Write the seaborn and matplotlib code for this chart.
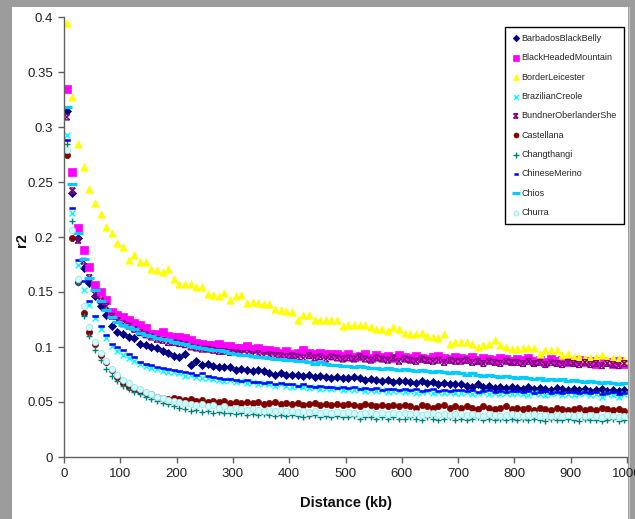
import numpy as np
import matplotlib
matplotlib.use("Agg")
import matplotlib.pyplot as plt
from matplotlib.path import Path
from matplotlib.markers import MarkerStyle
from matplotlib.patches import Rectangle
import seaborn as sns
import warnings
warnings.filterwarnings("ignore")

# ---------------- data (r2 vs distance, 10 kb bins) ----------------
distance_kb = np.arange(5, 1000, 10)

barbados_black_belly = [
    .315, .240, .199, .172, .158, .146, .137, .129, .119, .114,
    .112, .109, .108, .103, .102, .100, .099, .096, .095, .092,
    .091, .094, .084, .087, .084, .085, .083, .082, .082, .082,
    .079, .080, .079, .078, .079, .078, .076, .075, .076, .075,
    .075, .075, .074, .075, .073, .074, .073, .072, .073, .072,
    .072, .073, .072, .070, .071, .070, .069, .070, .068, .069,
    .069, .068, .067, .069, .067, .068, .066, .067, .066, .066,
    .066, .065, .064, .066, .064, .065, .063, .064, .063, .064,
    .063, .062, .064, .062, .063, .062, .061, .063, .062, .061,
    .062, .061, .062, .060, .061, .062, .060, .061, .060, .061]

black_headed_mountain = [
    .335, .259, .208, .188, .173, .156, .150, .143, .132, .129,
    .127, .125, .122, .120, .117, .112, .112, .114, .110, .109,
    .109, .108, .106, .104, .103, .102, .102, .103, .101, .101,
    .099, .099, .101, .098, .099, .097, .097, .096, .095, .096,
    .094, .095, .097, .095, .094, .095, .094, .094, .094, .092,
    .094, .091, .092, .094, .090, .093, .091, .092, .090, .093,
    .091, .090, .092, .090, .089, .091, .092, .090, .089, .091,
    .090, .089, .091, .088, .090, .089, .088, .090, .089, .087,
    .089, .088, .090, .087, .088, .086, .089, .087, .088, .086,
    .087, .088, .086, .087, .085, .087, .086, .085, .087, .085]

border_leicester = [
    .395, .327, .285, .264, .244, .231, .221, .209, .204, .195,
    .191, .179, .184, .177, .177, .171, .170, .168, .171, .162,
    .157, .157, .157, .155, .155, .148, .147, .146, .149, .143,
    .146, .147, .140, .141, .140, .139, .139, .135, .134, .133,
    .132, .125, .129, .129, .125, .125, .125, .125, .125, .119,
    .120, .120, .120, .120, .118, .116, .116, .115, .118, .116,
    .113, .112, .112, .113, .110, .109, .108, .112, .103, .105,
    .105, .105, .103, .100, .102, .103, .106, .102, .100, .098,
    .098, .099, .099, .099, .094, .097, .097, .097, .093, .094,
    .091, .091, .090, .090, .091, .093, .089, .090, .090, .088]

brazilian_creole = [
    .293, .222, .175, .152, .138, .126, .116, .108, .101, .096,
    .093, .090, .087, .085, .083, .081, .080, .078, .077, .077,
    .076, .074, .075, .073, .072, .072, .071, .070, .069, .070,
    .068, .069, .067, .068, .066, .067, .066, .065, .066, .065,
    .064, .065, .064, .063, .064, .062, .063, .062, .063, .061,
    .062, .061, .062, .060, .061, .060, .061, .059, .060, .060,
    .059, .060, .058, .059, .060, .058, .059, .058, .059, .058,
    .058, .059, .057, .058, .059, .057, .058, .057, .058, .057,
    .058, .057, .056, .058, .057, .056, .057, .058, .056, .057,
    .056, .057, .058, .056, .057, .055, .057, .056, .055, .057]

bundner_oberlander = [
    .309, .242, .197, .178, .163, .148, .142, .137, .128, .124,
    .121, .119, .116, .113, .111, .109, .107, .106, .104, .104,
    .103, .102, .100, .099, .098, .098, .097, .096, .096, .095,
    .095, .094, .094, .093, .094, .092, .093, .092, .092, .091,
    .092, .091, .090, .092, .090, .091, .089, .091, .090, .089,
    .090, .089, .091, .089, .088, .090, .089, .088, .090, .087,
    .089, .088, .087, .089, .088, .087, .088, .086, .088, .087,
    .087, .088, .086, .087, .085, .087, .086, .085, .087, .086,
    .086, .085, .087, .085, .086, .084, .086, .085, .084, .086,
    .085, .084, .086, .084, .085, .083, .085, .084, .083, .085]

castellana = [
    .275, .199, .159, .131, .114, .103, .093, .086, .079, .073,
    .067, .064, .062, .060, .058, .057, .055, .054, .053, .054,
    .053, .052, .053, .051, .052, .050, .051, .050, .051, .049,
    .050, .049, .050, .049, .050, .048, .049, .050, .048, .049,
    .048, .049, .047, .048, .049, .047, .048, .047, .048, .047,
    .048, .047, .046, .048, .047, .046, .047, .046, .047, .046,
    .047, .046, .045, .047, .046, .045, .046, .047, .045, .046,
    .045, .046, .045, .044, .046, .045, .044, .045, .046, .044,
    .045, .044, .045, .043, .045, .044, .043, .045, .044, .043,
    .044, .045, .043, .044, .043, .045, .044, .043, .044, .042]

changthangi = [
    .285, .215, .158, .128, .110, .097, .088, .080, .074, .069,
    .065, .062, .059, .057, .055, .053, .051, .049, .048, .046,
    .045, .044, .042, .043, .041, .042, .040, .041, .040, .040,
    .039, .040, .038, .039, .038, .039, .038, .037, .038, .037,
    .038, .037, .036, .037, .038, .036, .037, .036, .037, .036,
    .036, .037, .035, .036, .036, .035, .036, .035, .036, .035,
    .035, .036, .035, .034, .036, .035, .034, .035, .036, .034,
    .035, .034, .035, .036, .034, .035, .034, .035, .034, .035,
    .034, .035, .034, .035, .034, .033, .035, .034, .034, .035,
    .034, .033, .035, .034, .034, .033, .034, .035, .033, .034]

chinese_merino = [
    .288, .226, .179, .160, .142, .128, .119, .111, .103, .100,
    .097, .094, .091, .086, .085, .084, .082, .081, .080, .079,
    .078, .077, .076, .075, .076, .074, .073, .072, .071, .071,
    .070, .069, .070, .068, .068, .067, .068, .066, .067, .066,
    .066, .065, .066, .065, .064, .065, .064, .064, .063, .064,
    .063, .064, .062, .063, .062, .063, .061, .062, .062, .061,
    .062, .061, .062, .060, .061, .062, .060, .061, .060, .061,
    .061, .060, .061, .059, .060, .061, .059, .060, .059, .060,
    .060, .059, .060, .058, .059, .060, .058, .059, .058, .059,
    .059, .058, .059, .058, .059, .057, .058, .059, .057, .058]

chios = [
    .318, .248, .204, .180, .163, .152, .142, .134, .127, .123,
    .120, .118, .116, .113, .111, .110, .108, .107, .106, .105,
    .104, .103, .101, .100, .099, .098, .097, .097, .096, .095,
    .094, .093, .093, .092, .091, .091, .090, .089, .089, .088,
    .088, .087, .087, .086, .085, .086, .085, .084, .084, .083,
    .083, .082, .083, .082, .081, .081, .080, .081, .080, .079,
    .080, .079, .078, .079, .078, .077, .078, .077, .076, .077,
    .076, .075, .076, .075, .074, .075, .074, .073, .074, .073,
    .072, .073, .072, .071, .072, .070, .071, .070, .071, .069,
    .070, .069, .068, .069, .068, .067, .068, .067, .066, .067]

churra = [
    .279, .206, .162, .137, .118, .105, .095, .087, .080, .075,
    .070, .067, .064, .062, .059, .057, .055, .054, .052, .051,
    .050, .049, .048, .047, .048, .046, .047, .045, .046, .044,
    .045, .044, .043, .044, .043, .042, .043, .042, .043, .042,
    .042, .041, .042, .041, .042, .040, .041, .040, .041, .040,
    .041, .040, .039, .040, .041, .039, .040, .039, .040, .039,
    .040, .039, .040, .038, .039, .040, .038, .039, .038, .039,
    .039, .038, .039, .038, .037, .039, .038, .037, .038, .039,
    .038, .037, .038, .039, .037, .038, .037, .038, .037, .038,
    .037, .038, .037, .038, .037, .036, .038, .037, .036, .037]

series_names = ["BarbadosBlackBelly", "BlackHeadedMountain", "BorderLeicester",
                "BrazilianCreole", "BundnerOberlanderShe", "Castellana",
                "Changthangi", "ChineseMerino", "Chios", "Churra"]
series_values = [barbados_black_belly, black_headed_mountain, border_leicester,
                 brazilian_creole, bundner_oberlander, castellana,
                 changthangi, chinese_merino, chios, churra]

x_ticks = [0, 100, 200, 300, 400, 500, 600, 700, 800, 900, 1000]
y_ticks = [0, 0.05, 0.1, 0.15, 0.2, 0.25, 0.3, 0.35, 0.4]
y_tick_labels = ["0", "0.05", "0.1", "0.15", "0.2", "0.25", "0.3", "0.35", "0.4"]

for v in series_values:
    assert len(v) == len(distance_kb), len(v)

# ---------------- marker styles ----------------
hourglass = MarkerStyle(Path([(-1, 1), (1, 1), (-1, 1), (1, -1), (1, 1), (-1, -1), (-1, -1), (1, -1)],
                             [Path.MOVETO, Path.LINETO, Path.MOVETO, Path.LINETO,
                              Path.MOVETO, Path.LINETO, Path.MOVETO, Path.LINETO]),
                        fillstyle='none')
short_dash = [(-1, -0.55), (1, -0.55), (1, 0.55), (-1, 0.55)]

styles = [
    dict(marker='D', color='#000080', s=17, edgecolor='#000080', linewidth=0.5),
    dict(marker='s', color='#FF00FF', s=26, edgecolor='#FF00FF', linewidth=0.5),
    dict(marker='^', color='#FFFF00', s=28, edgecolor='#FFFF00', linewidth=0.5),
    dict(marker='x', color='#00FFFF', s=18, linewidth=1.0),
    dict(marker=hourglass, color='#800080', s=16, linewidth=1.0),
    dict(marker='o', color='#800000', s=20, edgecolor='#800000', linewidth=0.5),
    dict(marker='+', color='#008080', s=24, linewidth=1.0),
    dict(marker=short_dash, color='#0000FF', s=13, edgecolor='#0000FF', linewidth=0.4),
    dict(marker='_', color='#00CCFF', s=44, linewidth=2.3),
    dict(marker='o', color='#CCFFFF', s=20, edgecolor='#A8E0E0', linewidth=0.6),
]

# ---------------- figure ----------------
sns.set_theme(style="white")
plt.rcParams['font.family'] = ['Liberation Sans', 'DejaVu Sans']

W, H = 635, 519
fig = plt.figure(figsize=(W / 100, H / 100), dpi=100)
fig.patch.set_facecolor('#9c9c9c')
fig.patches.append(Rectangle((12 / W, 0), (628 - 12) / W, 1 - 7 / H, transform=fig.transFigure,
                             facecolor='white', edgecolor='none', zorder=-5))

ax = fig.add_axes([64 / W, (H - 457) / H, (627 - 64) / W, (457 - 17) / H])
ax.set_facecolor('white')

for name, vals, st in zip(series_names, series_values, styles):
    sns.scatterplot(x=distance_kb, y=vals, label=name, ax=ax, **st)

ax.set_xlim(0, 1000)
ax.set_ylim(0, 0.4)
ax.set_xticks(x_ticks)
ax.set_xticklabels([str(t) for t in x_ticks])
ax.set_yticks(y_ticks)
ax.set_yticklabels(y_tick_labels)
ax.tick_params(axis='both', direction='out', length=4, width=1, color='#606060',
               labelsize=9.5, labelcolor='#222222', pad=4, left=True, bottom=True)
for side in ['top', 'right']:
    ax.spines[side].set_visible(False)
for side in ['left', 'bottom']:
    ax.spines[side].set_color('#606060')
    ax.spines[side].set_linewidth(1)

ax.set_xlabel('Distance (kb)', fontsize=10.5, fontweight='bold', color='#111111')
ax.set_ylabel('r2', fontsize=10.5, fontweight='bold', color='#111111')
ax.xaxis.set_label_coords(0.5, -0.088)
ax.yaxis.set_label_coords(-0.062, 0.493)

leg = ax.legend(loc='upper left', bbox_to_anchor=(505 / W, 1 - 27 / H),
                bbox_transform=fig.transFigure, frameon=True, fancybox=False,
                edgecolor='black', framealpha=1, fontsize=6.5, borderaxespad=0,
                handletextpad=0.2, handlelength=0.9, labelspacing=1.15,
                borderpad=0.75, markerscale=0.8)
leg.get_frame().set_linewidth(1.0)

# right grey border, as in the original screenshot
fig.patches.append(Rectangle((629 / W, 0), 1 - 629 / W, 1, transform=fig.transFigure,
                             facecolor='#9c9c9c', edgecolor='none', zorder=-4))
fig.lines.append(plt.Line2D([628.5 / W, 628.5 / W], [0, 1 - 7 / H], transform=fig.transFigure,
                            color='#c8c8c8', linewidth=0.8, zorder=-3))

fig.savefig('out.png', dpi=100, facecolor=fig.get_facecolor())
